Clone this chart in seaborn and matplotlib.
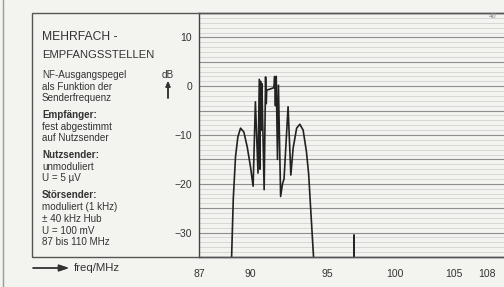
import numpy as np
import matplotlib
matplotlib.use("Agg")
import matplotlib.pyplot as plt
import seaborn as sns
from matplotlib.patches import Rectangle
from matplotlib.lines import Line2D
from matplotlib.ticker import FixedLocator, NullFormatter

# NF-Ausgangspegel über der Senderfrequenz
freq = [88.87, 88.97, 89.10, 89.24, 89.40, 89.60, 89.80, 90.00, 90.16, 90.30,
        90.46, 90.54, 90.58, 90.62, 90.66, 90.70, 90.84, 90.93, 90.97, 91.00,
        91.20, 91.45, 91.50, 91.55, 91.60, 91.68, 91.74, 91.88, 92.00, 92.10,
        92.36, 92.54, 92.69, 92.92, 93.13, 93.35, 93.57, 93.72, 93.86, 94.05]
pegel = [-35.0, -23.0, -14.5, -10.4, -8.6, -9.4, -12.4, -16.5, -20.5, -3.2,
         -17.8, 1.4, -17.0, 1.0, -9.0, 0.5, -21.2, 1.9, -3.6, -0.8,
         -0.6, -0.3, 2.0, -4.0, 2.0, -15.0, 0.2, -22.6, -20.0, -19.0,
         -4.2, -18.2, -12.7, -8.6, -7.8, -9.0, -13.4, -18.0, -25.3, -35.0]

# Nebenempfangsstelle
spur_freq = [96.9, 96.9]
spur_pegel = [-35.0, -30.4]

xticks = [87, 90, 95, 100, 105, 108]
xminor = [88, 89, 91, 92, 93, 94, 96, 97, 98, 99, 101, 102, 103, 104, 106, 107, 109]
yticks = [-30, -20, -10, 0, 10]
ytick_labels = ["\u221230", "\u221220", "\u221210", "0", "10"]

info_lines = [
    ("NF-Ausgangspegel", 75, "normal"),
    ("als Funktion der", 86.5, "normal"),
    ("Senderfrequenz", 98, "normal"),
    ("Empfänger:", 115, "bold"),
    ("fest abgestimmt", 126.5, "normal"),
    ("auf Nutzsender", 138, "normal"),
    ("Nutzsender:", 155, "bold"),
    ("unmoduliert", 167, "normal"),
    ("U = 5 µV", 178, "normal"),
    ("Störsender:", 195, "bold"),
    ("moduliert (1 kHz)", 207, "normal"),
    ("± 40 kHz Hub", 219, "normal"),
    ("U = 100 mV", 231, "normal"),
    ("87 bis 110 MHz", 242, "normal"),
]

paper = "#f3f3f0"
ink = "#333333"

sns.set_style("white")
plt.rcParams["font.family"] = ["Liberation Sans", "DejaVu Sans"]

W, H = 504, 287
fig = plt.figure(figsize=(W / 100, H / 100), dpi=100, facecolor=paper)


def fx(px):
    return px / W


def fy(py):
    return 1 - py / H


ax = fig.add_axes([fx(199), fy(257), (507 - 199) / W, 244 / H])
ax.set_facecolor(paper)

ax.set_xscale("function", functions=(lambda x: -np.power(np.abs(x) + 1e-9, -1.5),
                                     lambda y: np.power(np.abs(y) + 1e-12, -1 / 1.5)))
ax.set_xlim(87, 110)
ax.set_ylim(-35, 15)

# Raster
for lvl in range(-35, 16):
    if lvl % 5 == 0:
        ax.axhline(lvl, color="#8e8e8e", lw=0.8, zorder=1)
    else:
        ax.axhline(lvl, color="#cbcbcb", lw=0.5, zorder=1)

sns.lineplot(x=freq, y=pegel, sort=False, estimator=None, color="#222222",
             lw=1.2, ax=ax, zorder=3)
sns.lineplot(x=spur_freq, y=spur_pegel, sort=False, estimator=None, color="#222222",
             lw=1.4, ax=ax, zorder=3)

ax.xaxis.set_major_locator(FixedLocator(xticks))
ax.xaxis.set_minor_locator(FixedLocator(xminor))
ax.xaxis.set_minor_formatter(NullFormatter())
ax.set_xticklabels([str(t) for t in xticks])
ax.set_yticks(yticks)
ax.set_yticklabels(ytick_labels)
ax.tick_params(axis="x", which="major", direction="inout", length=5, width=0.8,
               colors=ink, labelsize=7.5, pad=6)
ax.tick_params(axis="x", which="minor", direction="inout", length=3, width=0.7, colors=ink)
ax.tick_params(axis="y", which="major", direction="out", length=3, width=0.8,
               colors=ink, labelsize=7.5, pad=2)
ax.set_xlabel("")
ax.set_ylabel("")

for side in ["left", "bottom", "top"]:
    ax.spines[side].set_color("#444444")
    ax.spines[side].set_linewidth(1.0)
ax.spines["right"].set_visible(False)

# Rahmen
fig.add_artist(Rectangle((fx(32), fy(257)), (520 - 32) / W, 244 / H, fill=False,
                         edgecolor="#555555", lw=1.0, transform=fig.transFigure))
fig.add_artist(Line2D([fx(3), fx(3)], [0, 1], color="#9a9a9a", lw=1.0,
                      transform=fig.transFigure))

# Textblock
fig.text(fx(42), fy(37), "MEHRFACH -", fontsize=8.7, color=ink, va="center")
fig.text(fx(42), fy(55), "EMPFANGSSTELLEN", fontsize=8.1, color=ink, va="center")
for txt, y, wt in info_lines:
    fig.text(fx(42), fy(y), txt, fontsize=7.1, color=ink, va="center", fontweight=wt)

fig.text(fx(168), fy(75), "dB", fontsize=7.2, color=ink, ha="center", va="center")
fig.add_artist(plt.annotate("", xy=(fx(168), fy(81)), xycoords="figure fraction",
                            xytext=(fx(168), fy(98)), textcoords="figure fraction",
                            arrowprops=dict(arrowstyle="-|>,head_length=0.3,head_width=0.13",
                                            color=ink, lw=1.1, shrinkA=0, shrinkB=0)))

fig.add_artist(plt.annotate("", xy=(fx(69), fy(268)), xycoords="figure fraction",
                            xytext=(fx(33), fy(268)), textcoords="figure fraction",
                            arrowprops=dict(arrowstyle="-|>,head_length=0.6,head_width=0.2",
                                            color=ink, lw=1.0, shrinkA=0, shrinkB=0)))
fig.text(fx(74), fy(268), "freq/MHz", fontsize=8.2, color=ink, va="center")

fig.text(fx(493), fy(17), "46", fontsize=5, color="#8a8a8a", ha="center",
         va="center", style="italic")

fig.savefig("out.png", dpi=100, facecolor=paper)
